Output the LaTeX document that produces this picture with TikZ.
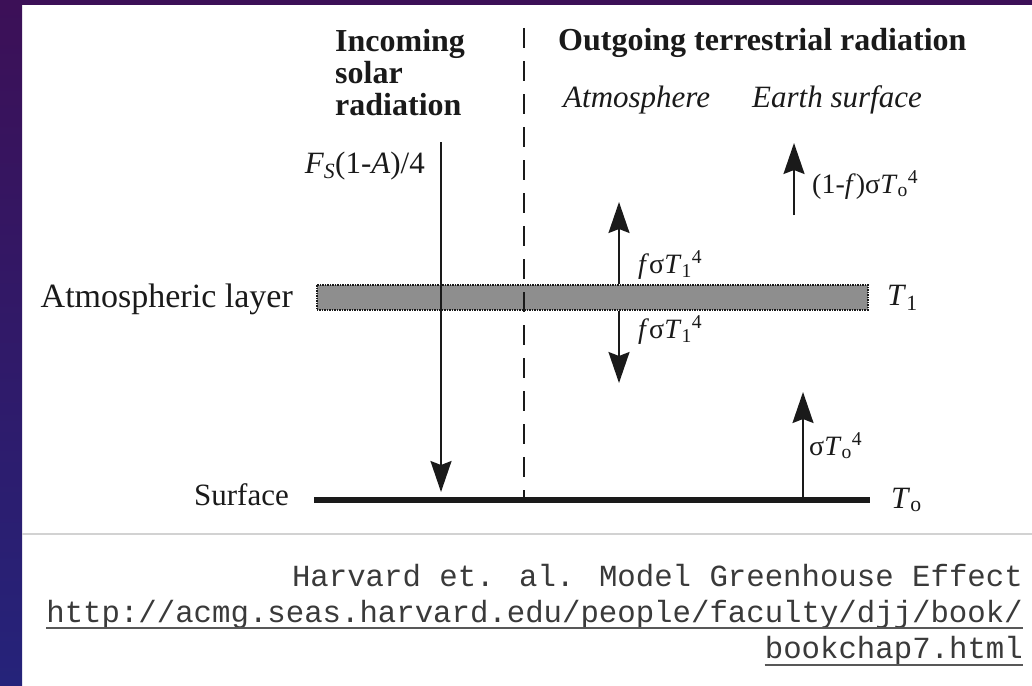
\documentclass[tikz,border=0pt]{standalone}
\usepackage{fontspec}
\setmainfont{Liberation Serif}
\newfontfamily\monof{Liberation Mono}
\usetikzlibrary{arrows.meta,calc}
\definecolor{slidetop}{HTML}{3C1057}
\definecolor{slidebot}{HTML}{25237A}
\definecolor{inkc}{HTML}{1A1A1A}
\definecolor{refc}{HTML}{3A3A3A}
\definecolor{barfill}{HTML}{8E8E8E}
\newcommand\tss[2]{\textit{T}\textsubscript{#1}\textsuperscript{#2}}
\begin{document}
\begin{tikzpicture}[x=1pt,y=-1pt,
  lbl/.style={inner sep=0pt, text=inkc},
  hd/.style={lbl, font=\fontsize{32}{32}\selectfont\bfseries},
  ith/.style={lbl, font=\fontsize{31}{31}\selectfont\itshape},
  rom/.style={lbl, font=\fontsize{31}{31}\selectfont},
  romb/.style={lbl, font=\fontsize{34}{34}\selectfont},
  fluxlbl/.style={lbl, font=\fontsize{28}{28}\selectfont},
  mono/.style={inner sep=0pt, text=refc, font=\fontsize{30.7}{30.7}\selectfont\monof},
  flux/.style={line width=2pt, draw=inkc, -{Stealth[length=31pt,width=21pt,inset=4pt]}},
  divider/.style={line width=2pt, draw=inkc, dash pattern=on 20pt off 13pt},
  layer/.style={draw=inkc, densely dotted, line width=1.5pt, fill=barfill, inner sep=0pt,
                minimum width=551pt, minimum height=25pt},
  uline/.style={draw=refc!85, line width=2pt}
]
\useasboundingbox (0,0) rectangle (1032,685);
\fill[white] (0,0) rectangle (1032,685);
\shade[top color=slidetop,bottom color=slidebot] (0,0) rectangle (22,685);
\fill[slidetop] (0,0) rectangle (1032,5);
\draw[gray!35, line width=1.5pt] (22,534) -- (1032,534);

% coordinates
\coordinate (solarTop) at (441,142);
\coordinate (solarEnd) at (441,492);
\coordinate (atmUpTip) at (619,202);
\coordinate (atmDownTip) at (619,383);
\coordinate (earthBase) at (794,215);
\coordinate (earthTip) at (794,143);
\coordinate (sfcUpTip) at (803,392);
\coordinate (surfL) at (314,500);
\coordinate (surfR) at (870,500);
\coordinate (divTop) at (524,28);
\coordinate (divBot) at (524,497);

% atmospheric layer
\node[layer, anchor=north west] (atm) at (316,284) {};

% connectors
\draw[divider] (divTop) -- (divBot);
\draw[flux] (solarTop) -- (solarEnd);
\draw[flux] (atm.north -| atmUpTip) -- (atmUpTip);
\draw[flux] (atm.south -| atmDownTip) -- (atmDownTip);
\draw[flux] (earthBase) -- (earthTip);
\draw[flux] (surfL -| sfcUpTip) -- (sfcUpTip);
\draw[line width=6pt, draw=inkc] (surfL) -- (surfR);

% headings
\node[hd, anchor=base west] (inc1) at (335,52) {Incoming};
\node[hd, anchor=base west] (inc2) at (335,83) {solar};
\node[hd, anchor=base west] (inc3) at (335,115) {radiation};
\node[hd, anchor=base west] (outg) at (558,51) {Outgoing terrestrial radiation};
\node[ith, anchor=base west] (atmh) at (563,107) {Atmosphere};
\node[ith, anchor=base west] (earh) at (752,107) {Earth surface};

% labels
\node[rom, anchor=base east] (fs) at (425,173) {\textit{F\textsubscript{S}}(1-\textit{A})/4};
\node[romb, anchor=base east] (atml) at (293,307) {Atmospheric layer};
\node[rom, anchor=base east] (surfl) at (289,505) {Surface};
\node[rom, anchor=base west] (t1) at (887,305) {\textit{T}\textsubscript{1}};
\node[rom, anchor=base west] (to) at (891,508) {\textit{T}\textsubscript{o}};
\node[fluxlbl, anchor=base west] (fup) at (638,273) {\textit{f}σ\tss{1}{4}};
\node[fluxlbl, anchor=base west] (fdn) at (638,338) {\textit{f}σ\tss{1}{4}};
\node[fluxlbl, anchor=base west] (esc) at (812,193) {(1-\textit{f})σ\tss{o}{4}};
\node[fluxlbl, anchor=base west] (sfc) at (809,455) {σ\tss{o}{4}};

% reference
\node[mono, anchor=base east] (cite) at (1023,586) {Harvard et. al. Model Greenhouse Effect};
\node[mono, anchor=base east] (url) at (1023,622) {http://acmg.seas.harvard.edu/people/faculty/djj/book/};
\node[mono, anchor=base east] (url2) at (1023,658) {bookchap7.html};
\draw[uline] ([yshift=-6pt]url.base west) -- ([yshift=-6pt]url.base east);
\draw[uline] ([yshift=-7pt]url2.base west) -- ([yshift=-7pt]url2.base east);
\end{tikzpicture}
\end{document}
